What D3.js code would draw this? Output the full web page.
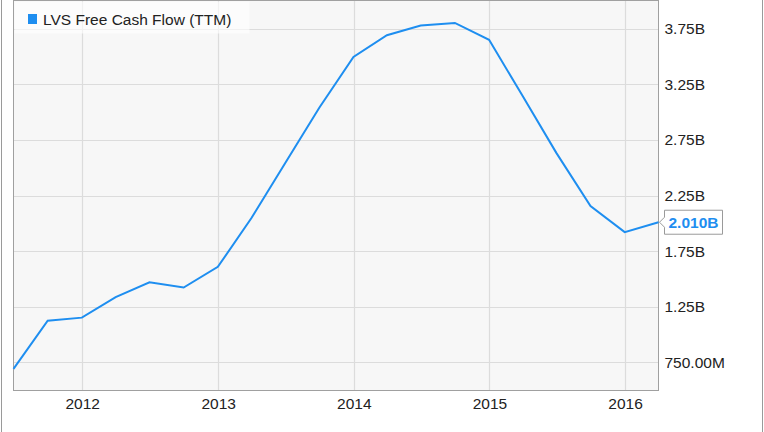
<!DOCTYPE html>
<html>
<head>
<meta charset="utf-8">
<script src="https://cdn.jsdelivr.net/npm/d3@7"></script>
<style>
  html, body { margin: 0; padding: 0; background: #fff; }
  svg { display: block; font-family: "Liberation Sans", Arial, sans-serif; }
</style>
</head>
<body>
<svg id="chart" width="764" height="432"></svg>
<script>
// ---- Data ----
const dates = ["2011-06-30","2011-09-30","2011-12-31","2012-03-31","2012-06-30","2012-09-30","2012-12-31",
  "2013-03-31","2013-06-30","2013-09-30","2013-12-31","2014-03-31","2014-06-30","2014-09-30","2014-12-31",
  "2015-03-31","2015-06-30","2015-09-30","2015-12-31","2016-03-31"];
const fcf = [0.693e9,1.126e9,1.153e9,1.338e9,1.471e9,1.423e9,1.609e9,
  2.045e9,2.540e9,3.038e9,3.495e9,3.690e9,3.777e9,3.800e9,3.648e9,
  3.146e9,2.633e9,2.155e9,1.921e9,2.010e9];
const yTicks = [0.75e9,1.25e9,1.75e9,2.25e9,2.75e9,3.25e9,3.75e9];
const yTickLabels = ["750.00M","1.25B","1.75B","2.25B","2.75B","3.25B","3.75B"];
const xTickYears = ["2012","2013","2014","2015","2016"];
const seriesName = "LVS Free Cash Flow (TTM)";
const lastLabel = "2.010B";

// ---- Layout ----
const svg = d3.select("#chart");
const W = 764, H = 432;
const plot = {left: 13.5, right: 658.5, top: 0.5, bottom: 390.5};
const blue = "#1e8ef0";
const fs = 15.5;

const parse = d3.timeParse("%Y-%m-%d");
const data = dates.map((d, i) => ({date: parse(d), value: fcf[i]}));

const x = d3.scaleTime()
  .domain([parse("2011-06-30"), parse("2016-03-31")])
  .range([plot.left, plot.right]);
const y = d3.scaleLinear()
  .domain([0.4985e9, 4.0015e9])
  .range([plot.bottom, plot.top]);

// outer frame lines
svg.append("line").attr("x1", 1.5).attr("x2", 1.5).attr("y1", 0).attr("y2", H)
  .attr("stroke", "#9a9a9a").attr("stroke-width", 1);
svg.append("line").attr("x1", 762.5).attr("x2", 762.5).attr("y1", 0).attr("y2", H)
  .attr("stroke", "#9a9a9a").attr("stroke-width", 1);

// plot background
svg.append("rect")
  .attr("x", plot.left).attr("y", plot.top)
  .attr("width", plot.right - plot.left).attr("height", plot.bottom - plot.top)
  .attr("fill", "#f7f7f7");

// grid lines
const xTickDates = xTickYears.map(s => parse(s + "-01-01"));
svg.append("g").selectAll("line").data(yTicks).join("line")
  .attr("x1", plot.left).attr("x2", plot.right)
  .attr("y1", d => Math.round(y(d)) + 0.5).attr("y2", d => Math.round(y(d)) + 0.5)
  .attr("stroke", "#dcdcdc").attr("stroke-width", 1.2);
svg.append("g").selectAll("line").data(xTickDates).join("line")
  .attr("x1", d => Math.round(x(d)) + 0.5).attr("x2", d => Math.round(x(d)) + 0.5)
  .attr("y1", plot.top).attr("y2", plot.bottom)
  .attr("stroke", "#dcdcdc").attr("stroke-width", 1.2);

// plot border
svg.append("rect")
  .attr("x", plot.left).attr("y", plot.top)
  .attr("width", plot.right - plot.left).attr("height", plot.bottom - plot.top)
  .attr("fill", "none").attr("stroke", "#a0a0a0").attr("stroke-width", 1);

// y axis (right)
const yAxis = d3.axisRight(y).tickValues(yTicks)
  .tickFormat((d, i) => yTickLabels[i]).tickSize(0).tickPadding(6);
const gy = svg.append("g").attr("transform", `translate(${plot.right},0)`).call(yAxis);
gy.select(".domain").remove();
gy.selectAll("text").attr("font-size", fs).attr("fill", "#222")
  .attr("font-family", "'Liberation Sans', Arial, sans-serif");

// x axis
const xAxis = d3.axisBottom(x).tickValues(xTickDates)
  .tickFormat((d, i) => xTickYears[i]).tickSize(0).tickPadding(7.5);
const gx = svg.append("g").attr("transform", `translate(0,${plot.bottom})`).call(xAxis);
gx.select(".domain").remove();
gx.selectAll("text").attr("font-size", fs).attr("fill", "#222")
  .attr("font-family", "'Liberation Sans', Arial, sans-serif");

// line
const line = d3.line().x(d => x(d.date)).y(d => y(d.value));
svg.append("path").datum(data)
  .attr("d", line).attr("fill", "none")
  .attr("stroke", blue).attr("stroke-width", 2)
  .attr("stroke-linejoin", "miter");

// legend
svg.append("rect")
  .attr("x", plot.left + 1).attr("y", plot.top + 1)
  .attr("width", 235).attr("height", 32)
  .attr("fill", "#ffffff").attr("fill-opacity", 0.6);
svg.append("rect")
  .attr("x", 28).attr("y", 14).attr("width", 9).attr("height", 10)
  .attr("fill", blue);
svg.append("text")
  .attr("x", 43).attr("y", 25)
  .attr("font-size", fs).attr("fill", "#222")
  .text(seriesName);

// last value label
const last = data[data.length - 1];
const ly = y(last.value);
const bx = 664.5, bw = 58, bh = 24;
svg.append("path")
  .attr("d", `M${bx},${ly - 5} L${bx - 5},${ly} L${bx},${ly + 5} L${bx},${ly + bh / 2} L${bx + bw},${ly + bh / 2} L${bx + bw},${ly - bh / 2} L${bx},${ly - bh / 2} Z`)
  .attr("fill", "#fff").attr("stroke", "#9a9a9a").attr("stroke-width", 1);
svg.append("text")
  .attr("x", bx + bw / 2).attr("y", ly + 5.5)
  .attr("text-anchor", "middle")
  .attr("font-size", fs).attr("font-weight", "bold").attr("fill", blue)
  .text(lastLabel);
</script>
</body>
</html>
